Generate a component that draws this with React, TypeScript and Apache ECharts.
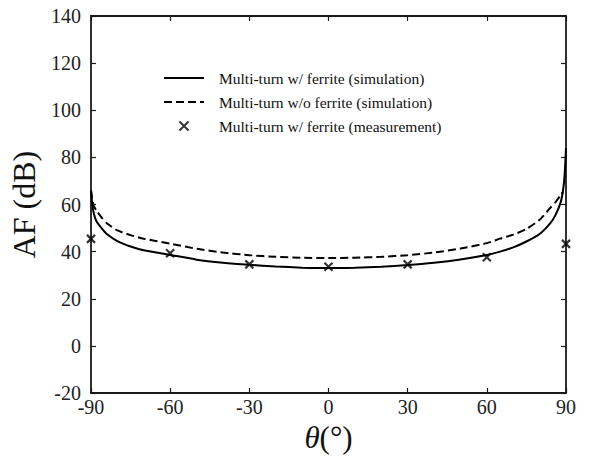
import React, { useEffect, useRef } from "react";
import * as echarts from "echarts";

const FONT = "'Liberation Serif', 'Times New Roman', serif";

const xTicks = { min: -90, max: 90, interval: 30 };
const yTicks = { min: -20, max: 140, interval: 20 };

const seriesNames = [
  "Multi-turn w/ ferrite (simulation)",
  "Multi-turn w/o ferrite (simulation)",
  "Multi-turn w/ ferrite (measurement)",
];

// Simulation with ferrite (theta in degrees, AF in dB)
const simFerriteTheta = [-90, -89.5, -89, -88, -86, -84, -80, -75, -70, -60, -50, -40, -30, -20, -10, 0, 10, 20, 30, 40, 50, 60, 65, 70, 75, 80, 84, 86, 88, 89, 89.5, 90];
const simFerriteAF = [66, 60, 56.5, 53, 50, 47.5, 44.5, 42.2, 40.6, 38.6, 36.6, 35.3, 34.4, 33.7, 33.2, 33, 33.2, 33.6, 34.3, 35.3, 36.7, 38.6, 40, 41.8, 44.3, 47.5, 52, 55.5, 61, 67, 73, 84];

// Simulation without ferrite
const simNoFerriteTheta = [-90, -89.5, -89, -88, -86, -84, -80, -75, -70, -60, -50, -40, -30, -20, -10, 0, 10, 20, 30, 40, 50, 60, 65, 70, 75, 80, 84, 86, 88, 89];
const simNoFerriteAF = [66, 62, 59.5, 57.5, 54.5, 52, 49, 47, 45.5, 43.4, 41.2, 39.6, 38.5, 37.8, 37.4, 37.3, 37.4, 37.8, 38.5, 39.6, 41.3, 43.6, 45.5, 47.2, 49.6, 53.5, 58.5, 61, 64, 65.5];

// Measurement with ferrite
const measTheta = [-90, -60, -30, 0, 30, 60, 90];
const measAF = [45.4, 39.3, 34.6, 33.6, 34.6, 37.6, 43.3];

const zip = (xs: number[], ys: number[]) => xs.map((x, i) => [x, ys[i]]);

export default function App() {
  const ref = useRef<HTMLDivElement>(null);
  useEffect(() => {
    if (!ref.current) return;
    const chart = echarts.init(ref.current, undefined, { renderer: "svg" });
    const axisColor = "#1a1a1a";
    const labelStyle = { fontFamily: FONT, fontSize: 20, color: "#222" };
    const hidden = { color: "rgba(0,0,0,0)", borderColor: "rgba(0,0,0,0)", borderWidth: 0 };
    chart.setOption({
      animation: false,
      backgroundColor: "#fff",
      textStyle: { fontFamily: FONT },
      grid: { left: 91, right: 25, top: 16, bottom: 73, containLabel: false },
      legend: {
        orient: "vertical",
        left: 158,
        top: 65,
        itemWidth: 40,
        itemHeight: 9,
        itemGap: 8,
        textStyle: { fontFamily: FONT, fontSize: 15.5, lineHeight: 16, color: "#111", padding: [0, 0, 0, 10] },
        data: [
          { name: seriesNames[0], itemStyle: hidden },
          { name: seriesNames[1], itemStyle: hidden },
          { name: seriesNames[2] },
        ],
      },
      xAxis: [
        {
          type: "value",
          ...xTicks,
          position: "bottom",
          axisLine: { show: true, onZero: false, lineStyle: { color: axisColor, width: 1.8 } },
          axisTick: { show: true, inside: true, length: 5, lineStyle: { color: axisColor, width: 1.2 } },
          axisLabel: { ...labelStyle, margin: 4 },
          splitLine: { show: false },
          name: "{i|θ}(°)",
          nameLocation: "middle",
          nameGap: 29,
          nameTextStyle: {
            fontFamily: FONT,
            fontSize: 31,
            color: "#111",
            rich: { i: { fontFamily: FONT, fontSize: 31, fontStyle: "italic", color: "#111" } },
          },
        },
        {
          type: "value",
          ...xTicks,
          position: "top",
          axisLine: { show: true, onZero: false, lineStyle: { color: axisColor, width: 1.8 } },
          axisTick: { show: true, inside: true, length: 5, lineStyle: { color: axisColor, width: 1.2 } },
          axisLabel: { show: false },
          splitLine: { show: false },
        },
      ],
      yAxis: [
        {
          type: "value",
          ...yTicks,
          position: "left",
          axisLine: { show: true, onZero: false, lineStyle: { color: axisColor, width: 1.8 } },
          axisTick: { show: true, inside: true, length: 5, lineStyle: { color: axisColor, width: 1.2 } },
          axisLabel: { ...labelStyle, margin: 10 },
          splitLine: { show: false },
          name: "AF (dB)",
          nameLocation: "middle",
          nameGap: 51,
          nameTextStyle: { fontFamily: FONT, fontSize: 32, color: "#111" },
        },
        {
          type: "value",
          ...yTicks,
          position: "right",
          axisLine: { show: true, onZero: false, lineStyle: { color: axisColor, width: 1.8 } },
          axisTick: { show: true, inside: true, length: 5, lineStyle: { color: axisColor, width: 1.2 } },
          axisLabel: { show: false },
          splitLine: { show: false },
        },
      ],
      series: [
        {
          name: seriesNames[0],
          type: "line",
          xAxisIndex: 0,
          yAxisIndex: 0,
          data: zip(simFerriteTheta, simFerriteAF),
          symbol: "none",
          smooth: 0.2,
          lineStyle: { color: "#000", width: 2, type: "solid" },
          itemStyle: { color: "rgba(0,0,0,0)" },
        },
        {
          name: seriesNames[1],
          type: "line",
          xAxisIndex: 0,
          yAxisIndex: 0,
          data: zip(simNoFerriteTheta, simNoFerriteAF),
          symbol: "none",
          smooth: 0.2,
          lineStyle: { color: "#000", width: 2, type: [8, 4] },
          itemStyle: { color: "rgba(0,0,0,0)" },
        },
        {
          name: seriesNames[2],
          type: "scatter",
          xAxisIndex: 0,
          yAxisIndex: 0,
          data: zip(measTheta, measAF),
          symbol: "path://M0,0L10,10M10,0L0,10",
          symbolSize: 8,
          symbolKeepAspect: true,
          itemStyle: { color: "#000", borderColor: "#000", borderWidth: 2.2 },
        },
      ],
    });
    return () => chart.dispose();
  }, []);
  return <div ref={ref} style={{ width: 591, height: 466, position: "absolute", left: 0, top: 0 }} />;
}
